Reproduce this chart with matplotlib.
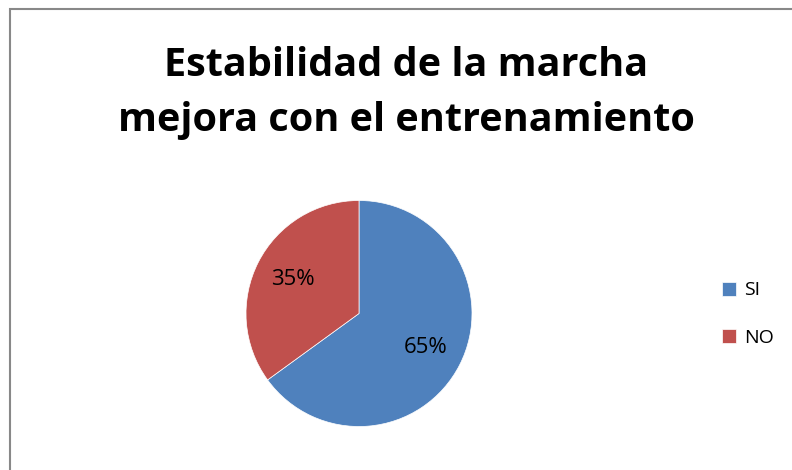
import matplotlib.pyplot as plt
from matplotlib.patches import Rectangle

labels = ['SI', 'NO']
values = [65, 35]
colors = ['#4F81BD', '#C0504D']
title = 'Estabilidad de la marcha\nmejora con el entrenamiento'

plt.rcParams['font.family'] = ['Open Sans', 'DejaVu Sans']

fig = plt.figure(figsize=(7.92, 4.70), dpi=100)

# Rahmen um das Diagramm (rechts und unten außerhalb des Bildes)
fig.patches.append(Rectangle((10 / 792, -0.02), 1.02, 1 - 9 / 470 + 0.02,
                             transform=fig.transFigure, fill=False,
                             edgecolor='#888888', linewidth=1.5))

fig.text(406 / 792, 1 - 93 / 470, title, ha='center', va='center',
         fontsize=28.5, fontweight='bold', linespacing=1.55)

ax = fig.add_axes([246 / 792, 43 / 470, 226 / 792, 227 / 470])
wedges, _, autotexts = ax.pie(values, colors=colors, startangle=90, counterclock=False,
                              autopct='%1.0f%%', pctdistance=0.66,
                              wedgeprops={'edgecolor': 'white', 'linewidth': 0.5},
                              textprops={'fontsize': 16, 'color': 'black'})
ax.set_xlim(-1, 1)
ax.set_ylim(-1, 1)
ax.set_aspect('equal')

fig.legend(wedges, labels, loc='center left', bbox_to_anchor=(704 / 792, 1 - 314 / 470),
           frameon=False, fontsize=14, handlelength=0.75, handleheight=0.75,
           handletextpad=0.4, labelspacing=1.5)

fig.savefig('out.png', dpi=100)
